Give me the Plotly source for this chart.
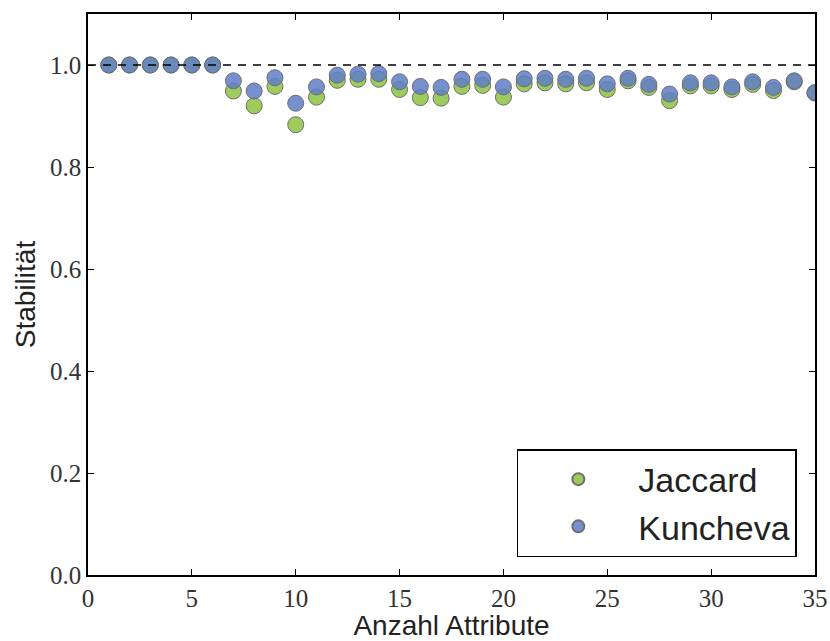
import plotly.graph_objects as go

attrs = list(range(1, 36))
jaccard = [1.0, 1.0, 1.0, 1.0, 1.0, 1.0, 0.949, 0.920, 0.958, 0.883, 0.937, 0.970,
           0.972, 0.972, 0.952, 0.936, 0.935, 0.958, 0.960, 0.937, 0.963, 0.965,
           0.963, 0.965, 0.952, 0.969, 0.956, 0.930, 0.959, 0.959, 0.952, 0.962,
           0.950, 0.967, 0.945]
kuncheva = [1.0, 1.0, 1.0, 1.0, 1.0, 1.0, 0.969, 0.949, 0.975, 0.925, 0.957, 0.980,
            0.982, 0.983, 0.967, 0.958, 0.956, 0.972, 0.972, 0.957, 0.973, 0.974,
            0.972, 0.974, 0.963, 0.974, 0.962, 0.943, 0.965, 0.965, 0.957, 0.967,
            0.956, 0.969, 0.946]
x_ticks = [0, 5, 10, 15, 20, 25, 30, 35]
y_ticks = [0.0, 0.2, 0.4, 0.6, 0.8, 1.0]
ref_value = 1.0

SERIF = "Liberation Serif, 'Times New Roman', serif"
SANS = "Liberation Sans, Arial, sans-serif"

fig = go.Figure()
fig.add_trace(go.Scatter(
    x=attrs, y=jaccard, mode="markers", name="Jaccard",
    marker=dict(size=16, color="rgb(158,204,92)", line=dict(color="#6e6e6e", width=1)),
))
fig.add_trace(go.Scatter(
    x=attrs, y=kuncheva, mode="markers", name="Kuncheva",
    marker=dict(size=16, color="rgba(95,125,200,0.85)", line=dict(color="#6e6e6e", width=1)),
))
fig.add_trace(go.Scatter(
    x=[0, 35], y=[ref_value, ref_value], mode="lines", showlegend=False,
    line=dict(color="black", width=1.3, dash="8px,7px"), hoverinfo="skip",
))

axis_common = dict(
    showline=True, linecolor="black", linewidth=1.5, mirror="ticks",
    ticks="inside", ticklen=6, tickwidth=1, tickcolor="black",
    showgrid=False, zeroline=False, automargin=False,
    tickfont=dict(family=SERIF, size=25, color="#333"),
)
fig.update_xaxes(range=[0, 35], tickvals=x_ticks, ticktext=[str(v) for v in x_ticks],
                 title=dict(text="Anzahl Attribute", font=dict(family=SANS, size=28, color="#222"), standoff=2),
                 **axis_common)
fig.update_yaxes(range=[0, 1.1], tickvals=y_ticks, ticktext=[f"{v:.1f}" for v in y_ticks],
                 title=dict(text="Stabilität", font=dict(family=SANS, size=28, color="#222"), standoff=6),
                 **axis_common)

fig.update_layout(
    width=830, height=641,
    margin=dict(l=88, r=15, t=14, b=66),
    plot_bgcolor="white", paper_bgcolor="white",
    legend=dict(
        x=0.975, y=0.032, xanchor="right", yanchor="bottom",
        bordercolor="black", borderwidth=1.5, bgcolor="white",
        font=dict(family=SANS, size=34, color="#222"),
        itemsizing="constant", itemwidth=110, tracegroupgap=4,
    ),
)

fig.write_html("out.html")
